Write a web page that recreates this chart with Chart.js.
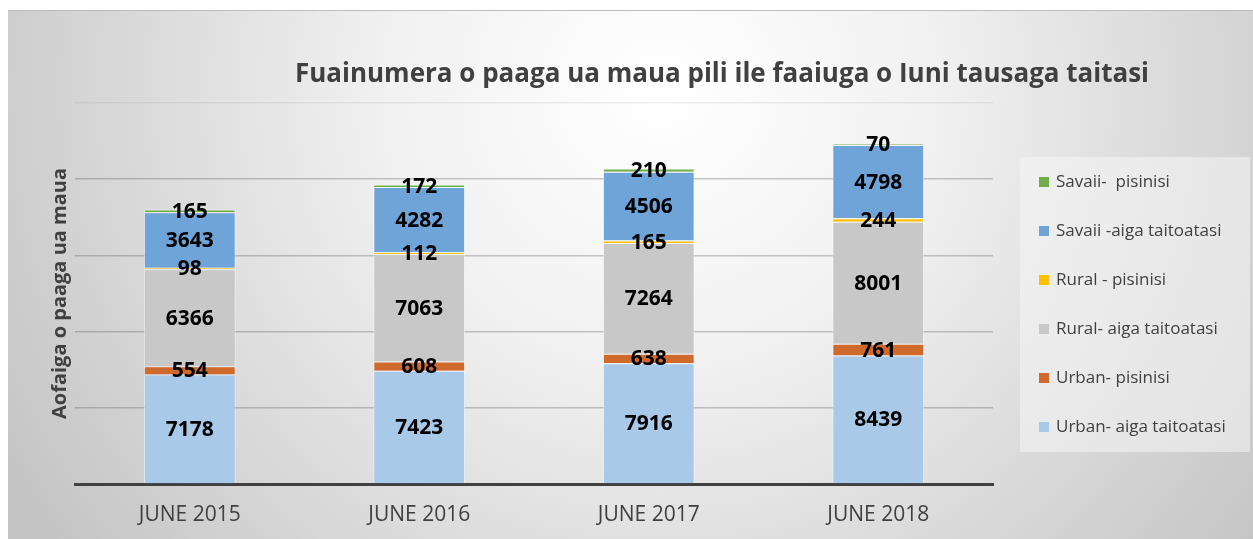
<!DOCTYPE html>
<html>
<head>
<meta charset="utf-8">
<script src="https://cdn.jsdelivr.net/npm/chart.js@4"></script>
<style>
  html,body{margin:0;padding:0;background:#fff;}
  #wrap{width:1253px;height:539px;}
</style>
</head>
<body>
<div id="wrap"><canvas id="c" width="1253" height="539"></canvas></div>
<script>
/* ===== Dados ===== */
const categories     = ['JUNE 2015','JUNE 2016','JUNE 2017','JUNE 2018'];
const urbanAiga      = [7178, 7423, 7916, 8439];
const urbanPisinisi  = [554, 608, 638, 761];
const ruralAiga      = [6366, 7063, 7264, 8001];
const ruralPisinisi  = [98, 112, 165, 244];
const savaiiAiga     = [3643, 4282, 4506, 4798];
const savaiiPisinisi = [165, 172, 210, 70];

const seriesNames  = ['Urban- aiga taitoatasi','Urban- pisinisi','Rural- aiga taitoatasi','Rural - pisinisi','Savaii -aiga taitoatasi','Savaii-  pisinisi'];
const seriesValues = [urbanAiga, urbanPisinisi, ruralAiga, ruralPisinisi, savaiiAiga, savaiiPisinisi];
const seriesColors = ['#a9c9e9','#d0692c','#c8c8c8','#ffc000','#6fa4d8','#70ad47'];

const chartTitle = 'Fuainumera o paaga ua maua pili ile faaiuga o Iuni tausaga taitasi';
const yTitle     = 'Aofaiga o paaga ua maua';
const FONT = '"Open Sans", sans-serif';

/* ===== Fundo, título e legenda ===== */
const frame = {
  id:'frame',
  beforeDraw(chart){
    const ctx = chart.ctx;
    ctx.save();
    ctx.fillStyle = '#fff';
    ctx.fillRect(0,0,chart.width,chart.height);
    const g = ctx.createRadialGradient(660,90,10,660,90,760);
    g.addColorStop(0,'#ffffff');
    g.addColorStop(0.35,'#f1f1f1');
    g.addColorStop(1,'#c4c4c4');
    ctx.fillStyle = g;
    ctx.fillRect(8,10,chart.width-8,chart.height-10);
    ctx.strokeStyle = '#bdbdbd';
    ctx.lineWidth = 1;
    ctx.beginPath(); ctx.moveTo(8,10.5); ctx.lineTo(chart.width,10.5); ctx.stroke();
    ctx.restore();
  },
  afterDraw(chart){
    const ctx = chart.ctx;
    ctx.save();
    // título
    ctx.fillStyle = '#404040';
    ctx.font = 'bold 26px ' + FONT;
    ctx.textAlign = 'center';
    ctx.textBaseline = 'middle';
    ctx.fillText(chartTitle, 722, 75);
    // legenda
    ctx.fillStyle = 'rgba(245,245,245,0.55)';
    ctx.fillRect(1020,157,230,295);
    ctx.font = '17px ' + FONT;
    ctx.textAlign = 'left';
    const items = chart.data.datasets.slice().reverse();
    items.forEach((ds,i)=>{
      const y = 182 + i*49;
      ctx.fillStyle = ds.backgroundColor;
      ctx.fillRect(1039, y-5, 10, 10);
      ctx.fillStyle = '#404040';
      ctx.fillText(ds.label, 1056, y);
    });
    ctx.restore();
  }
};

/* ===== Rótulos dos valores ===== */
const valueLabels = {
  id:'valueLabels',
  afterDraw(chart){
    const ctx = chart.ctx;
    ctx.save();
    ctx.font = 'bold 21px ' + FONT;
    ctx.fillStyle = '#000';
    ctx.textAlign = 'center';
    ctx.textBaseline = 'middle';
    chart.data.datasets.forEach((ds,i)=>{
      chart.getDatasetMeta(i).data.forEach((bar,j)=>{
        ctx.fillText(String(ds.data[j]), bar.x, (bar.y + bar.base)/2 + 1);
      });
    });
    ctx.restore();
  }
};

new Chart(document.getElementById('c'), {
  type:'bar',
  data:{
    labels: categories,
    datasets: seriesNames.map((name,i)=>({
      label: name,
      data: seriesValues[i],
      backgroundColor: seriesColors[i],
      borderColor: 'rgba(255,255,255,0.55)',
      borderWidth: 1,
      categoryPercentage: 1,
      barPercentage: 0.4
    }))
  },
  options:{
    responsive:false,
    animation:false,
    layout:{ padding:{ left:8, top:103, right:260, bottom:0 } },
    plugins:{ legend:{display:false}, title:{display:false}, tooltip:{enabled:false} },
    scales:{
      x:{
        stacked:true,
        grid:{ display:false, drawTicks:false },
        border:{ display:true, color:'#404040', width:3 },
        ticks:{ color:'#404040', font:{ family:FONT, size:21 }, padding:18 },
        afterFit(s){ s.height = 55; }
      },
      y:{
        stacked:true,
        z:1,
        min:0, max:25000,
        ticks:{ display:false, stepSize:5000 },
        grid:{
          color:(c)=> c.tick && c.tick.value===25000 ? 'rgba(120,120,120,0.12)' : 'rgba(90,90,90,0.33)',
          lineWidth:1.5, drawTicks:false
        },
        border:{ display:false },
        title:{ display:true, text:yTitle, color:'#404040', font:{ family:FONT, size:20, weight:'bold' }, padding:{top:40,bottom:0} },
        afterFit(s){ s.width = 67; }
      }
    }
  },
  plugins:[frame, valueLabels]
});
</script>
</body>
</html>
